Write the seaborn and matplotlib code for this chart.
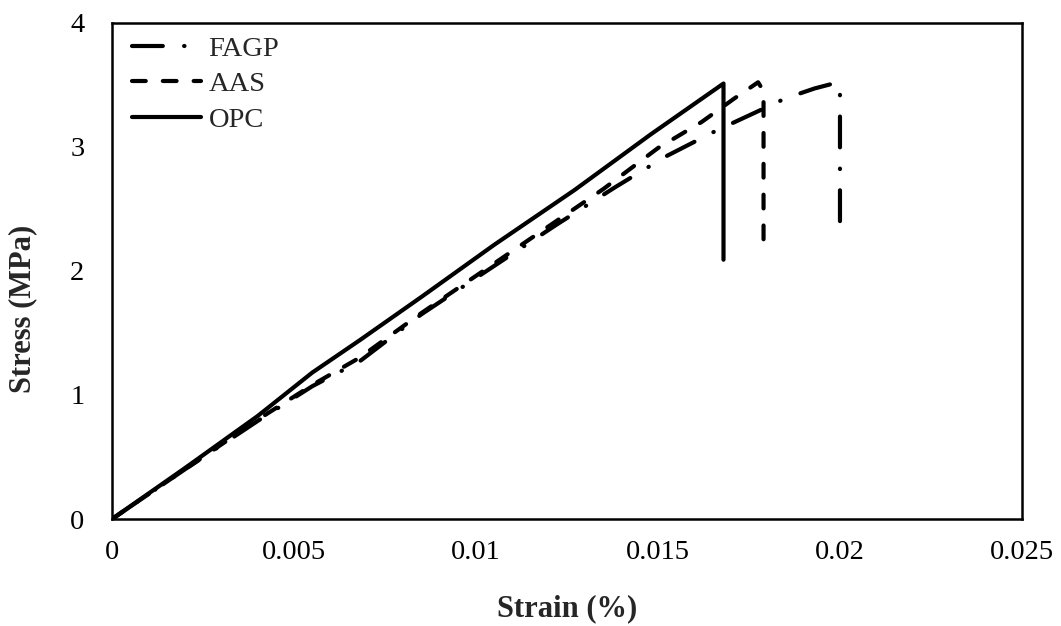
import matplotlib
matplotlib.use("Agg")
import matplotlib.pyplot as plt
import seaborn as sns
import pandas as pd

# ---- data ----
fagp_strain = [0, 0.002, 0.004, 0.0055, 0.0068, 0.0085, 0.0105, 0.0122, 0.0138,
               0.0152, 0.0166, 0.0177, 0.0185, 0.0193, 0.01995, 0.0200, 0.0200]
fagp_stress = [0, 0.40, 0.79, 1.07, 1.27, 1.65, 2.04, 2.37, 2.67,
               2.92, 3.13, 3.28, 3.39, 3.47, 3.52, 3.45, 2.23]

aas_strain = [0, 0.002, 0.004, 0.0055, 0.0068, 0.0085, 0.0105, 0.0120, 0.0135,
              0.0150, 0.0162, 0.0171, 0.01775, 0.0179, 0.0179]
aas_stress = [0, 0.40, 0.80, 1.08, 1.30, 1.66, 2.06, 2.36, 2.66,
              2.99, 3.20, 3.39, 3.52, 3.45, 2.21]

opc_strain = [0, 0.002, 0.004, 0.0055, 0.0068, 0.0085, 0.0105, 0.0127, 0.0148,
              0.0168, 0.0168]
opc_stress = [0, 0.41, 0.83, 1.18, 1.44, 1.79, 2.21, 2.65, 3.10, 3.51, 2.09]

series_names = ["FAGP", "AAS", "OPC"]
x_ticks = [0, 0.005, 0.01, 0.015, 0.02, 0.025]
x_tick_labels = ["0", "0.005", "0.01", "0.015", "0.02", "0.025"]
y_ticks = [0, 1, 2, 3, 4]

rows = []
for name, xs, ys in zip(series_names,
                        [fagp_strain, aas_strain, opc_strain],
                        [fagp_stress, aas_stress, opc_stress]):
    for i, (a, b) in enumerate(zip(xs, ys)):
        rows.append({"Mix": name, "Strain": a, "Stress": b, "order": i})
df = pd.DataFrame(rows)

sns.set_theme(style="white")
plt.rcParams["font.family"] = ["Liberation Serif", "DejaVu Serif"]

fig = plt.figure(figsize=(10.61, 6.26), dpi=100)
ax = fig.add_axes([0.1056, 0.1709, 0.8576, 0.7928])

lw = 3.0
dash_map = {"FAGP": (7.4, 5.1, 0.1, 5.1), "AAS": (3.3, 4.1), "OPC": ""}
sns.lineplot(data=df, x="Strain", y="Stress", style="Mix", style_order=series_names,
             dashes=dash_map, color="black", sort=False, estimator=None,
             linewidth=lw, ax=ax, legend=True)

for line in ax.get_lines():
    line.set_dash_capstyle("round")
    line.set_solid_capstyle("round")

ax.set_xlim(0, 0.025)
ax.set_ylim(0, 4)
ax.set_xticks(x_ticks)
ax.set_xticklabels(x_tick_labels)
ax.set_yticks(y_ticks)
ax.tick_params(axis="both", direction="in", length=8, width=1.5,
               labelsize=20.5, colors="black")
ax.tick_params(axis="x", pad=15)
ax.tick_params(axis="y", pad=20)
for s in ax.spines.values():
    s.set_visible(True)
    s.set_color("black")
    s.set_linewidth(1.8)

ax.set_xlabel("Strain (%)", fontsize=22, fontweight="bold")
ax.set_ylabel("Stress (MPa)", fontsize=22, fontweight="bold")
# label positions (axes fraction)
ax.xaxis.set_label_coords(0.5, -0.152)
ax.yaxis.set_label_coords(-0.082, 0.423)

handles, labels = ax.get_legend_handles_labels()
for h in handles:
    h.set_dash_capstyle("round")
    h.set_solid_capstyle("round")
    h.set_linewidth(lw)
leg = ax.legend(handles, labels, loc="upper left", frameon=False, fontsize=20.5,
                handlelength=2.45, handletextpad=0.25, labelspacing=0.33,
                borderaxespad=0.0, bbox_to_anchor=(0.009, 0.996))

fig.savefig("out.png", dpi=100, facecolor="white")
